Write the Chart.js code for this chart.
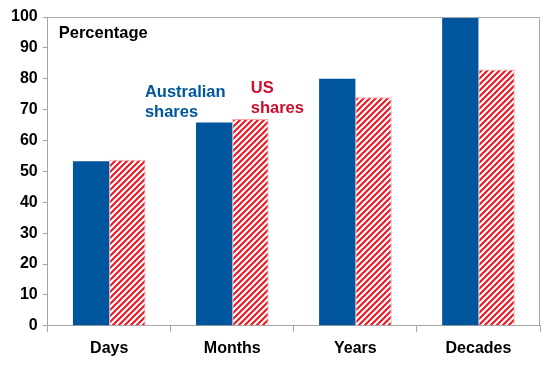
<!DOCTYPE html>
<html>
<head>
    <title>Share returns by horizon</title>
    <script src="https://cdn.jsdelivr.net/npm/chart.js"></script>
    <style>
        body { margin: 0; background: #ffffff; }
        .wrap { width: 548px; height: 366px; }
    </style>
</head>
<body>
    <div class="wrap">
        <canvas id="chart" width="548" height="366"></canvas>
    </div>

    <script>
        // Chart data
        const categories = ['Days', 'Months', 'Years', 'Decades'];
        const australianShares = [53.3, 65.8, 80, 100];
        const usShares = [53.8, 67, 74, 83];
        const yTicks = [0, 10, 20, 30, 40, 50, 60, 70, 80, 90, 100];

        const BLUE = '#00569c';
        const RED = '#f0141e';
        const TEXT_RED = '#c8102e';
        const FONT = 'Arial, "Liberation Sans", sans-serif';

        // red diagonal hatch on white
        function makeHatch() {
            const c = document.createElement('canvas');
            c.width = 6; c.height = 6;
            const ctx = c.getContext('2d');
            ctx.fillStyle = '#ffffff';
            ctx.fillRect(0, 0, 6, 6);
            ctx.strokeStyle = RED;
            ctx.lineWidth = 2;
            ctx.beginPath();
            ctx.moveTo(-1, 7); ctx.lineTo(7, -1);
            ctx.moveTo(-4, 4); ctx.lineTo(4, -4);
            ctx.moveTo(2, 10); ctx.lineTo(10, 2);
            ctx.stroke();
            return ctx.createPattern(c, 'repeat');
        }

        // frame + text notes
        const notes = {
            id: 'notes',
            afterDraw(chart) {
                const { ctx, chartArea: a, scales } = chart;
                const x = scales.x, y = scales.y;
                ctx.save();
                ctx.strokeStyle = '#a6a6a6';
                ctx.lineWidth = 1;
                ctx.beginPath();
                ctx.moveTo(a.left, a.top + 0.5);
                ctx.lineTo(a.right - 0.5, a.top + 0.5);
                ctx.lineTo(a.right - 0.5, a.bottom);
                ctx.stroke();

                ctx.textBaseline = 'middle';
                ctx.font = 'bold 16.5px ' + FONT;
                ctx.fillStyle = '#000000';
                ctx.fillText('Percentage', a.left + 11, y.getPixelForValue(94.8));

                ctx.fillStyle = BLUE;
                const ax = x.getPixelForValue(0.29);
                ctx.fillText('Australian', ax, y.getPixelForValue(75.6));
                ctx.fillText('shares', ax, y.getPixelForValue(69.2));
                ctx.fillStyle = TEXT_RED;
                const ux = x.getPixelForValue(1.15);
                ctx.fillText('US', ux, y.getPixelForValue(77));
                ctx.fillText('shares', ux, y.getPixelForValue(70.5));
                ctx.restore();
            }
        };

        new Chart(document.getElementById('chart'), {
            type: 'bar',
            data: {
                labels: categories,
                datasets: [{
                    label: 'Australian shares',
                    data: australianShares,
                    backgroundColor: BLUE,
                    borderWidth: 0
                }, {
                    label: 'US shares',
                    data: usShares,
                    backgroundColor: makeHatch(),
                    borderColor: '#f7a9ac',
                    borderWidth: 1
                }]
            },
            options: {
                responsive: false,
                animation: false,
                layout: { padding: { top: 17, right: 8, left: 6, bottom: 0 } },
                plugins: {
                    legend: { display: false },
                    tooltip: { enabled: false }
                },
                datasets: {
                    bar: { categoryPercentage: 0.59, barPercentage: 1 }
                },
                scales: {
                    x: {
                        grid: {
                            offset: true,
                            drawOnChartArea: false,
                            color: '#a6a6a6',
                            tickLength: 6
                        },
                        border: { color: '#a6a6a6' },
                        ticks: {
                            color: '#000000',
                            padding: 7.5,
                            font: { family: FONT, size: 16, weight: 'bold' }
                        }
                    },
                    y: {
                        min: 0,
                        max: 100,
                        afterBuildTicks(scale) {
                            scale.ticks = yTicks.map(v => ({ value: v }));
                        },
                        grid: {
                            drawOnChartArea: false,
                            color: '#a6a6a6',
                            tickLength: 5
                        },
                        border: { color: '#a6a6a6' },
                        ticks: {
                            color: '#000000',
                            padding: 5,
                            font: { family: FONT, size: 16, weight: 'bold' }
                        }
                    }
                }
            },
            plugins: [notes]
        });
    </script>
</body>
</html>
